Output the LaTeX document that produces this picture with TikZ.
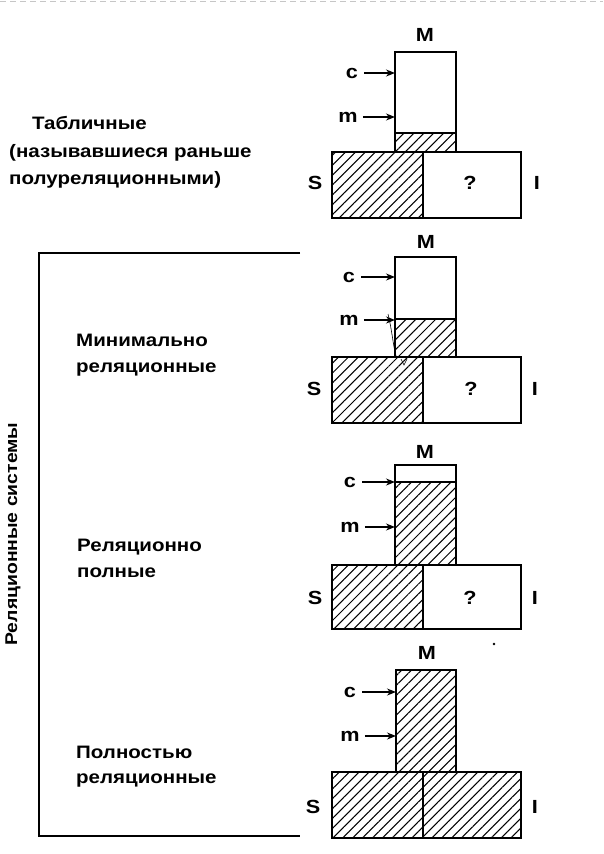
\documentclass[tikz,border=0pt]{standalone}
\usepackage{fontspec}
\setmainfont{Liberation Sans}[FakeStretch=1.14]
\usetikzlibrary{patterns.meta,arrows.meta}
\tikzset{
  box/.style={draw, line width=1.9pt, inner sep=0pt, outer sep=0pt, anchor=north west},
  edge/.style={line width=1.9pt},
  hatch/.style={pattern={Lines[angle=45,distance=7pt,line width=1.05pt]}},
  lbl/.style={font=\bfseries\fontsize{19}{21}\selectfont, inner sep=0pt},
  txt/.style={font=\bfseries\fontsize{18}{20}\selectfont, inner sep=0pt, anchor=base west},
  sidetxt/.style={font=\bfseries\fontsize{17}{20}\selectfont, inner sep=0pt, anchor=center, rotate=90},
  arr/.style={-{Stealth[length=9pt,width=7pt]}, line width=1.3pt},
}
\begin{document}
\begin{tikzpicture}[x=1pt,y=-1pt]
\useasboundingbox (0,0) rectangle (603,854);
% top page edge
\draw[gray!45, line width=1pt, dash pattern=on 6pt off 4pt] (0,1.5) -- (603,1.5);

% ===== Diagram 1 =====
\fill[hatch] (395,133) rectangle (456,152);
\fill[hatch] (332,152) rectangle (423,218);
\node[box, minimum width=61pt, minimum height=100pt] (M1) at (395,52) {};
\node[box, minimum width=189pt, minimum height=66pt] (B1) at (332,152) {};
\draw[edge] (395,133) -- (456,133);
\draw[edge] (423,152) -- (423,218);
\node[lbl] (lM1) at (425,35) {M};
\node[lbl] (lc1) at (352,73) {c};
\node[lbl] (lm1) at (348,117) {m};
\node[lbl] (lS1) at (315,183) {S};
\node[lbl] (lq1) at (470,183) {?};
\node[lbl] (lI1) at (537,183) {I};
\draw[arr] ([xshift=6pt]lc1.east) -- (lc1.east -| M1.west);
\draw[arr] ([xshift=5pt]lm1.east) -- (lm1.east -| M1.west);
\node[txt] (t1a) at (32,129) {Табличные};
\node[txt] (t1b) at (9,157) {(называвшиеся раньше};
\node[txt] (t1c) at (9,184) {полуреляционными)};

% ===== Diagram 2 =====
\fill[hatch] (395,319) rectangle (456,357);
\fill[hatch] (332,357) rectangle (423,423);
\node[box, minimum width=61pt, minimum height=100pt] (M2) at (395,257) {};
\node[box, minimum width=189pt, minimum height=66pt] (B2) at (332,357) {};
\draw[edge] (395,319) -- (456,319);
\draw[edge] (423,357) -- (423,423);
\draw[line width=0.6pt] (388,314) .. controls (392,330) and (393,345) .. (396,356);
\draw[line width=0.6pt] (401,359) -- (404,365) -- (407,359);
\node[lbl] (lM2) at (426,242) {M};
\node[lbl] (lc2) at (349,277) {c};
\node[lbl] (lm2) at (349,320) {m};
\node[lbl] (lS2) at (314,389) {S};
\node[lbl] (lq2) at (471,389) {?};
\node[lbl] (lI2) at (535,389) {I};
\draw[arr] ([xshift=6pt]lc2.east) -- (lc2.east -| M2.west);
\draw[arr] ([xshift=5pt]lm2.east) -- (lm2.east -| M2.west);
\node[txt] (t2a) at (76,346) {Минимально};
\node[txt] (t2b) at (76,372) {реляционные};

% ===== Diagram 3 =====
\fill[hatch] (395,482) rectangle (456,565);
\fill[hatch] (332,565) rectangle (423,629);
\node[box, minimum width=61pt, minimum height=100pt] (M3) at (395,465) {};
\node[box, minimum width=189pt, minimum height=64pt] (B3) at (332,565) {};
\draw[edge] (395,482) -- (456,482);
\draw[edge] (423,565) -- (423,629);
\node[lbl] (lM3) at (425,452) {M};
\node[lbl] (lc3) at (350,482) {c};
\node[lbl] (lm3) at (350,527) {m};
\node[lbl] (lS3) at (315,598) {S};
\node[lbl] (lq3) at (470,598) {?};
\node[lbl] (lI3) at (535,598) {I};
\draw[arr] ([xshift=6pt]lc3.east) -- (lc3.east -| M3.west);
\draw[arr] ([xshift=5pt]lm3.east) -- (lm3.east -| M3.west);
\node[txt] (t3a) at (77,551) {Реляционно};
\node[txt] (t3b) at (77,577) {полные};
\fill (494,644) circle (1.3pt);

% ===== Diagram 4 =====
\fill[hatch] (396,670) rectangle (456,772);
\fill[hatch] (332,772) rectangle (521,838);
\node[box, minimum width=60pt, minimum height=102pt] (M4) at (396,670) {};
\node[box, minimum width=189pt, minimum height=66pt] (B4) at (332,772) {};
\draw[edge] (423,772) -- (423,838);
\node[lbl] (lM4) at (427,653) {M};
\node[lbl] (lc4) at (350,692) {c};
\node[lbl] (lm4) at (350,736) {m};
\node[lbl] (lS4) at (313,807) {S};
\node[lbl] (lI4) at (535,807) {I};
\draw[arr] ([xshift=6pt]lc4.east) -- (lc4.east -| M4.west);
\draw[arr] ([xshift=5pt]lm4.east) -- (lm4.east -| M4.west);
\node[txt] (t4a) at (76,758) {Полностью};
\node[txt] (t4b) at (76,783) {реляционные};

% ===== bracket =====
\coordinate (br1) at (300,253);
\coordinate (br2) at (39,253);
\coordinate (br3) at (39,836);
\coordinate (br4) at (300,836);
\draw[line width=1.9pt] (br1) -- (br2) -- (br3) -- (br4);
\node[sidetxt] (rs) at (13,534) {Реляционные системы};
\end{tikzpicture}
\end{document}
